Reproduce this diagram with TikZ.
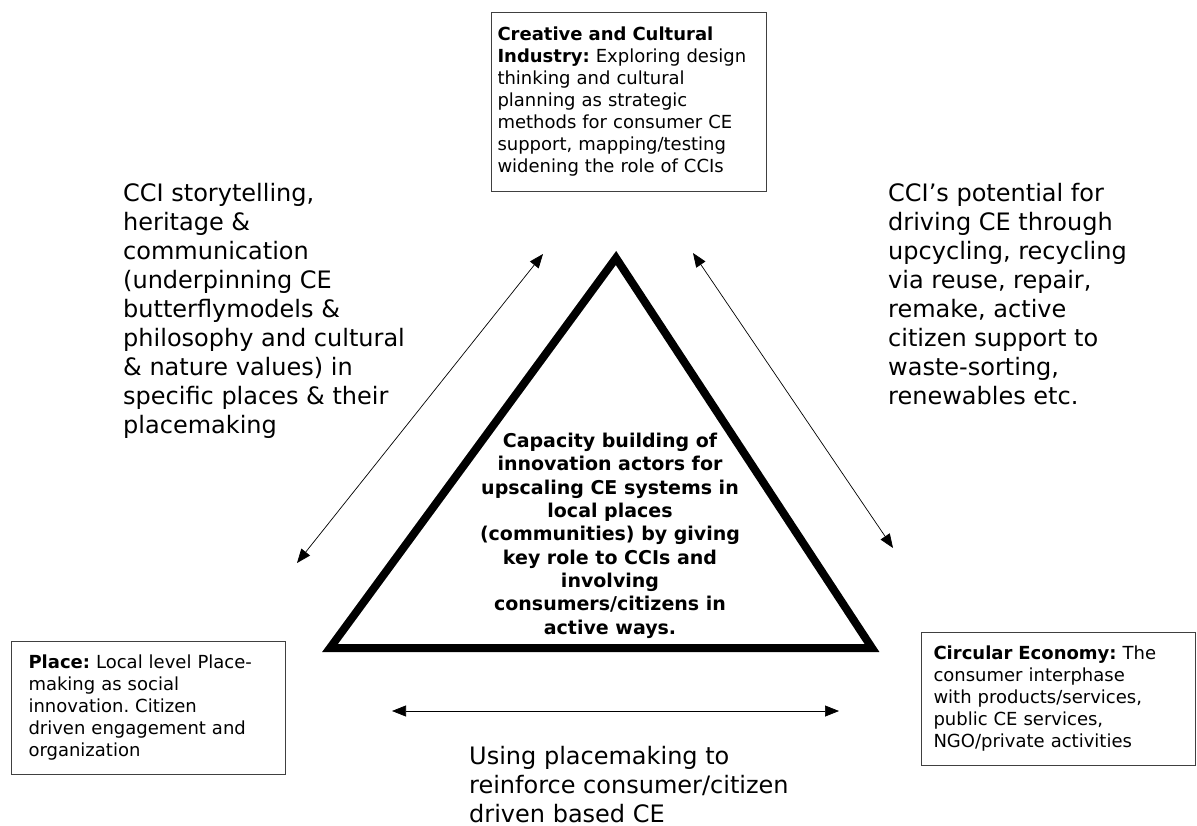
\documentclass[tikz,border=0pt]{standalone}
\usepackage{fontspec}
\setmainfont{DejaVu Sans}
\usetikzlibrary{arrows.meta}
\frenchspacing

\tikzset{
  infobox/.style={draw=black!75, line width=1pt, anchor=north west, align=left,
    inner ysep=0pt, font=\fontsize{18}{22}\selectfont},
  note/.style={anchor=north west, align=left, inner sep=0pt,
    font=\fontsize{24}{29}\selectfont},
  link/.style={>={Triangle[length=14pt,width=11pt]}, <->, line width=0.7pt},
}

\begin{document}
\begin{tikzpicture}[x=1pt,y=-1pt]
\useasboundingbox (0,0) rectangle (1197,826);
\fill[white] (0,0) rectangle (1197,826);

% Boxes
\node[infobox, text width=263pt, inner xsep=6pt, minimum height=179pt] (cci) at (491,12)
  {\textbf{Creative and Cultural}\\ \textbf{Industry:} Exploring design\\ thinking and cultural\\
   planning as strategic\\ methods for consumer CE\\ support, mapping/testing\\ widening the role of CCIs};
\node[infobox, text width=240pt, inner xsep=17pt, minimum height=133pt] (place) at (11,641)
  {\textbf{Place:} Local level Place-\\ making as social\\ innovation. Citizen\\
   driven engagement and\\ organization};
\node[infobox, text width=250pt, inner xsep=12pt, minimum height=133pt] (ce) at (921,632)
  {\textbf{Circular Economy:} The\\ consumer interphase\\ with products/services,\\
   public CE services,\\ NGO/private activities};

% Triangle
\coordinate (apex) at (616,258);
\coordinate (left) at (330,648);
\coordinate (right) at (872,648);
\draw[line width=8pt] (apex) -- (left) -- (right) -- cycle;

\node[anchor=north, align=center, inner sep=0pt, font=\bfseries\fontsize{19}{23.3}\selectfont] (core) at (610,433)
  {Capacity building of\\ innovation actors for\\ upscaling CE systems in\\ local places\\
   (communities) by giving\\ key role to CCIs and\\ involving\\ consumers/citizens in\\ active ways.};

% Text Nodes
\node[note] (story) at (123,183)
  {CCI storytelling,\\ heritage \&\\ communication\\ (underpinning CE\\ butterflymodels \&\\
   philosophy and cultural\\ \& nature values) in\\ specific places \& their\\ placemaking};
\node[note] (drive) at (888,183)
  {CCI’s potential for\\ driving CE through\\ upcycling, recycling\\ via reuse, repair,\\
   remake, active\\ citizen support to\\ waste-sorting,\\ renewables etc.};
\node[note] (using) at (469,746)
  {Using placemaking to\\ reinforce consumer/citizen\\ driven based CE};

% Straight Lines
\coordinate (lt) at (543,254);
\coordinate (lb) at (297,563);
\coordinate (rt) at (693,253);
\coordinate (rb) at (893,548);
\coordinate (bl) at (392,711);
\coordinate (br) at (839,711);
\draw[link] (lb) -- (lt);
\draw[link] (rt) -- (rb);
\draw[link] (bl) -- (br);

\end{tikzpicture}
\end{document}
